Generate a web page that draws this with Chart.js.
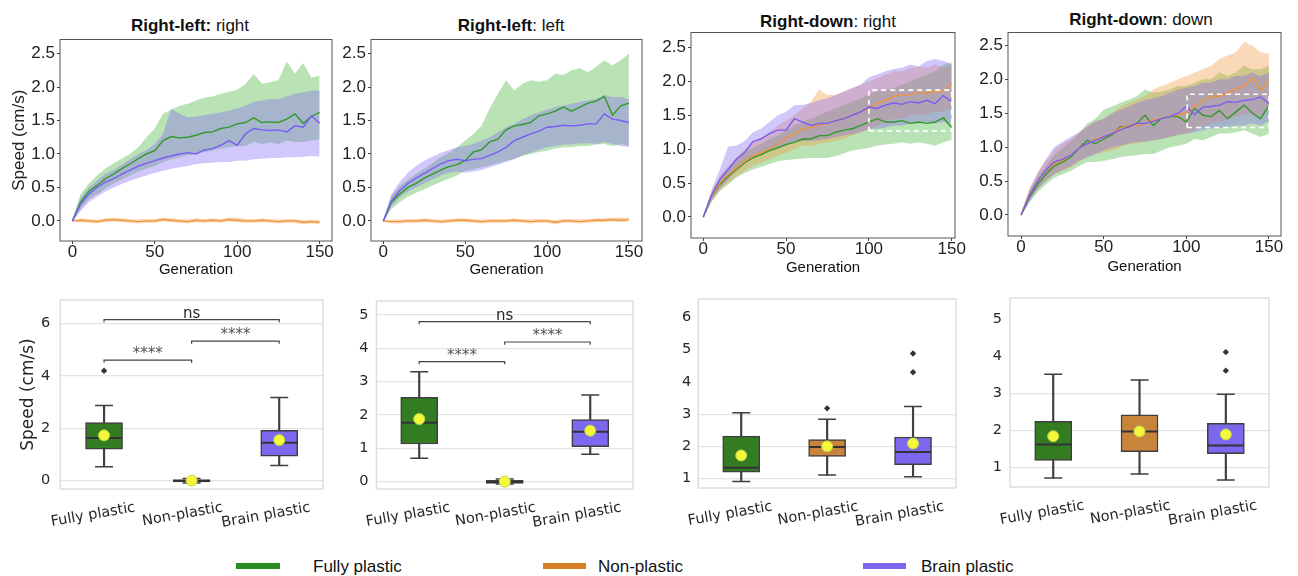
<!DOCTYPE html>
<html>
<head>
<meta charset="utf-8">
<script src="https://cdn.jsdelivr.net/npm/chart.js@4.4.1/dist/chart.umd.min.js"></script>
<style>
  body { margin: 0; background: #fff; width: 1298px; height: 576px; position: relative; overflow: hidden;
         font-family: "Liberation Sans", Arial, sans-serif; }
  canvas { position: absolute; }
  .ttl { position: absolute; font-size: 17px; color: #111; white-space: nowrap; transform: translate(-50%, -50%); }
  .sw { position: absolute; top: 563px; height: 6px; }
  .lt { position: absolute; top: 557px; font-size: 17px; line-height: 20px; color: #111; }
</style>
</head>
<body>
<div class="ttl" style="left:190px;top:26px"><b>Right-left:</b> right</div>
<div class="ttl" style="left:511px;top:26px"><b>Right-left</b>: left</div>
<div class="ttl" style="left:828px;top:22px"><b>Right-down</b>: right</div>
<div class="ttl" style="left:1141px;top:20px"><b>Right-down</b>: down</div>

<div class="sw" style="left:236px;width:44px;background:#2a8c22"></div>
<div class="lt" style="left:313px">Fully plastic</div>
<div class="sw" style="left:543px;width:43px;background:#d97f2a"></div>
<div class="lt" style="left:598px">Non-plastic</div>
<div class="sw" style="left:863px;width:43px;background:#7b68ee"></div>
<div class="lt" style="left:921px">Brain plastic</div>

<script>
// ---- top row: mean speed per generation, with spread band ----
const gens = [0,5,10,15,20,25,30,35,40,45,50,55,60,65,70,75,80,85,90,95,100,105,110,115,120,125,130,135,140,145,150];
const genTicks = [0, 50, 100, 150];
const speedTicks = [0, 0.5, 1, 1.5, 2, 2.5];

// Right-left: right
const rlRightFully   = [0,0.28,0.44,0.53,0.63,0.7,0.78,0.85,0.93,1.0,1.05,1.2,1.26,1.24,1.25,1.28,1.32,1.33,1.38,1.4,1.45,1.47,1.54,1.47,1.48,1.47,1.52,1.6,1.46,1.56,1.62];
const rlRightFullyHi = [0.02,0.4,0.56,0.68,0.78,0.86,0.93,1.0,1.1,1.25,1.38,1.6,1.66,1.72,1.75,1.8,1.84,1.86,1.9,1.93,1.96,2.04,2.2,2.05,2.07,2.1,2.38,2.2,2.36,2.14,2.17];
const rlRightFullyLo = [-0.02,0.18,0.32,0.4,0.48,0.56,0.62,0.68,0.74,0.78,0.82,0.88,0.92,0.95,0.98,1.0,1.03,1.05,1.08,1.1,1.12,1.12,1.18,1.15,1.17,1.15,1.2,1.18,1.18,1.2,1.22];
const rlRightNon     = [0,0.01,0,-0.01,0.01,0.02,0.01,0,-0.01,0,0,0.02,0.01,0,-0.01,0.01,0,0.01,0,0.02,0.01,0,0,0.01,0,-0.01,0,0,-0.02,-0.01,-0.02];
const rlRightNonHi   = [0.01,0.04,0.03,0.02,0.04,0.05,0.04,0.03,0.02,0.03,0.03,0.05,0.04,0.03,0.02,0.04,0.03,0.04,0.03,0.05,0.05,0.03,0.03,0.04,0.03,0.02,0.03,0.03,0.01,0.02,0.01];
const rlRightNonLo   = [-0.01,-0.02,-0.03,-0.04,-0.02,-0.01,-0.02,-0.03,-0.04,-0.03,-0.03,-0.01,-0.02,-0.03,-0.04,-0.02,-0.03,-0.02,-0.03,-0.01,-0.02,-0.03,-0.03,-0.02,-0.03,-0.04,-0.03,-0.03,-0.05,-0.04,-0.05];
const rlRightBrain   = [0,0.25,0.4,0.5,0.58,0.63,0.7,0.76,0.82,0.86,0.9,0.94,0.97,1.0,1.02,1.0,1.06,1.08,1.13,1.2,1.13,1.3,1.38,1.36,1.35,1.36,1.33,1.42,1.4,1.57,1.46];
const rlRightBrainHi = [0.02,0.35,0.5,0.6,0.7,0.76,0.84,0.92,1.0,1.06,1.15,1.3,1.68,1.6,1.55,1.56,1.58,1.6,1.62,1.65,1.68,1.72,1.78,1.8,1.82,1.82,1.86,1.9,1.92,1.95,1.95];
const rlRightBrainLo = [-0.02,0.15,0.28,0.36,0.44,0.5,0.55,0.6,0.64,0.68,0.72,0.75,0.78,0.8,0.82,0.85,0.86,0.87,0.88,0.88,0.9,0.9,0.92,0.93,0.94,0.94,0.95,0.95,0.96,0.97,0.96];

// Right-left: left
const rlLeftFully   = [0,0.28,0.4,0.5,0.56,0.64,0.7,0.76,0.81,0.84,0.9,1.03,1.06,1.18,1.22,1.36,1.42,1.44,1.47,1.57,1.6,1.64,1.7,1.64,1.7,1.76,1.79,1.86,1.58,1.72,1.76];
const rlLeftFullyHi = [0.02,0.38,0.52,0.62,0.7,0.78,0.86,0.95,1.02,1.1,1.2,1.3,1.42,1.68,1.9,2.1,1.95,2.05,2.1,2.08,2.1,2.2,2.18,2.25,2.28,2.22,2.3,2.4,2.32,2.4,2.5];
const rlLeftFullyLo = [-0.02,0.18,0.28,0.36,0.42,0.47,0.53,0.58,0.63,0.68,0.75,0.77,0.8,0.83,0.86,0.9,0.93,0.97,1.0,1.03,1.05,1.08,1.1,1.1,1.12,1.12,1.14,1.15,1.12,1.15,1.12];
const rlLeftNon     = [0,-0.01,-0.01,0,0,0.01,0,-0.01,0,0.01,0.01,0,-0.01,0,0,0,0.01,0,-0.01,0,0,-0.02,0,0,-0.01,0,0.01,0.01,0.02,0.01,0.02];
const rlLeftNonHi   = [0.01,0.02,0.02,0.03,0.03,0.04,0.03,0.02,0.03,0.04,0.04,0.03,0.02,0.03,0.03,0.03,0.04,0.03,0.02,0.03,0.03,0.01,0.03,0.03,0.02,0.03,0.04,0.04,0.05,0.05,0.05];
const rlLeftNonLo   = [-0.01,-0.04,-0.04,-0.03,-0.03,-0.02,-0.03,-0.04,-0.03,-0.02,-0.02,-0.03,-0.04,-0.03,-0.03,-0.03,-0.02,-0.03,-0.04,-0.03,-0.03,-0.05,-0.03,-0.03,-0.04,-0.03,-0.02,-0.02,-0.01,-0.02,-0.01];
const rlLeftBrain   = [0,0.3,0.45,0.56,0.64,0.71,0.78,0.85,0.9,0.92,0.9,0.92,0.93,0.98,1.03,1.1,1.2,1.25,1.3,1.34,1.4,1.41,1.43,1.42,1.43,1.45,1.45,1.6,1.52,1.5,1.47];
const rlLeftBrainHi = [0.02,0.4,0.58,0.72,0.82,0.9,0.96,1.02,1.06,1.1,1.12,1.15,1.2,1.25,1.32,1.4,1.45,1.52,1.58,1.62,1.66,1.7,1.72,1.75,1.78,1.8,1.82,1.88,1.85,1.85,1.82];
const rlLeftBrainLo = [-0.02,0.22,0.35,0.44,0.5,0.56,0.62,0.68,0.72,0.74,0.72,0.74,0.76,0.8,0.84,0.88,0.92,0.98,1.02,1.06,1.1,1.12,1.14,1.14,1.16,1.16,1.15,1.18,1.15,1.12,1.1];

// Right-down: right
const rdRightFully   = [0,0.3,0.48,0.6,0.7,0.8,0.87,0.92,0.98,1.02,1.07,1.1,1.15,1.15,1.2,1.2,1.25,1.28,1.3,1.35,1.4,1.45,1.4,1.4,1.42,1.38,1.4,1.38,1.4,1.46,1.32];
const rdRightFullyHi = [0.02,0.36,0.58,0.72,0.84,0.95,1.02,1.08,1.15,1.2,1.28,1.35,1.4,1.45,1.5,1.55,1.6,1.65,1.7,1.75,1.8,1.85,1.88,1.9,1.95,2.0,2.05,2.1,2.15,2.25,2.28];
const rdRightFullyLo = [-0.02,0.22,0.38,0.48,0.58,0.65,0.7,0.74,0.78,0.82,0.84,0.85,0.86,0.87,0.87,0.87,0.9,0.94,0.98,1.0,1.02,1.05,1.07,1.08,1.1,1.08,1.1,1.08,1.05,1.1,1.14];
const rdRightNon     = [0,0.3,0.5,0.62,0.72,0.82,0.9,0.95,1.0,1.08,1.17,1.22,1.3,1.32,1.36,1.38,1.42,1.45,1.5,1.55,1.6,1.68,1.72,1.78,1.8,1.8,1.84,1.82,1.86,1.85,1.96];
const rdRightNonHi   = [0.02,0.36,0.6,0.75,0.88,1.0,1.1,1.18,1.25,1.35,1.42,1.5,1.6,1.7,1.88,1.8,1.8,1.85,1.9,1.95,2.0,2.05,2.1,2.15,2.15,2.2,2.22,2.2,2.25,2.2,2.25];
const rdRightNonLo   = [-0.02,0.24,0.4,0.5,0.6,0.68,0.75,0.8,0.85,0.9,0.95,1.0,1.05,1.05,1.08,1.1,1.12,1.15,1.2,1.25,1.3,1.35,1.4,1.45,1.45,1.5,1.5,1.52,1.55,1.55,1.6];
const rdRightBrain   = [0,0.32,0.55,0.7,0.85,0.95,1.11,1.15,1.23,1.28,1.28,1.45,1.4,1.35,1.38,1.38,1.42,1.45,1.5,1.55,1.62,1.6,1.65,1.68,1.66,1.7,1.68,1.72,1.67,1.79,1.7];
const rdRightBrainHi = [0.02,0.4,0.7,1.04,1.05,1.12,1.25,1.3,1.4,1.5,1.55,1.65,1.65,1.68,1.72,1.75,1.8,1.85,1.9,1.95,2.06,2.1,2.15,2.18,2.2,2.25,2.22,2.3,2.33,2.3,2.25];
const rdRightBrainLo = [-0.02,0.24,0.42,0.55,0.68,0.78,0.88,0.92,1.0,1.02,1.05,1.1,1.12,1.12,1.14,1.15,1.18,1.2,1.22,1.25,1.3,1.3,1.32,1.35,1.35,1.38,1.38,1.4,1.38,1.4,1.38];
const rdRightZoom    = [100, 150, 1.27, 1.87];   // gen from, gen to, speed from, speed to

// Right-down: down
const rdDownFully   = [0,0.26,0.45,0.6,0.72,0.78,0.85,0.98,1.1,1.05,1.12,1.18,1.3,1.3,1.35,1.47,1.32,1.42,1.45,1.45,1.37,1.57,1.47,1.45,1.54,1.42,1.52,1.62,1.5,1.42,1.62];
const rdDownFullyHi = [0.02,0.34,0.56,0.72,0.88,0.98,1.08,1.2,1.35,1.42,1.55,1.6,1.65,1.7,1.75,1.85,1.8,1.82,1.85,1.9,1.9,1.95,2.0,2.0,2.1,2.05,2.1,2.2,2.15,2.15,2.2];
const rdDownFullyLo = [-0.02,0.18,0.34,0.45,0.55,0.6,0.65,0.72,0.78,0.78,0.8,0.82,0.85,0.87,0.88,0.9,0.9,0.95,1.0,1.02,1.05,1.12,1.1,1.15,1.2,1.2,1.22,1.25,1.2,1.15,1.2];
const rdDownNon     = [0,0.3,0.5,0.64,0.75,0.8,0.88,0.98,1.05,1.12,1.15,1.2,1.28,1.32,1.32,1.35,1.4,1.42,1.45,1.48,1.5,1.6,1.68,1.75,1.75,1.8,1.86,1.9,2.02,1.84,1.98];
const rdDownNonHi   = [0.02,0.38,0.62,0.8,0.95,1.05,1.12,1.2,1.3,1.38,1.42,1.5,1.6,1.65,1.7,1.75,1.85,1.9,1.95,2.0,2.05,2.1,2.15,2.2,2.3,2.35,2.4,2.55,2.5,2.4,2.38];
const rdDownNonLo   = [-0.02,0.22,0.38,0.5,0.6,0.65,0.7,0.78,0.85,0.9,0.92,0.95,1.0,1.05,1.05,1.08,1.1,1.12,1.15,1.18,1.2,1.25,1.3,1.35,1.38,1.4,1.45,1.48,1.5,1.45,1.55];
const rdDownBrain   = [0,0.28,0.5,0.66,0.78,0.82,0.88,0.98,1.05,1.1,1.15,1.2,1.25,1.3,1.35,1.35,1.38,1.42,1.45,1.5,1.6,1.48,1.59,1.6,1.62,1.67,1.66,1.69,1.7,1.74,1.64];
const rdDownBrainHi = [0.02,0.38,0.62,0.82,1.0,1.08,1.15,1.22,1.3,1.38,1.42,1.5,1.55,1.6,1.65,1.7,1.72,1.75,1.8,1.85,1.88,1.9,1.95,1.95,2.0,2.0,2.05,2.05,2.1,2.05,2.1];
const rdDownBrainLo = [-0.02,0.2,0.38,0.5,0.6,0.66,0.72,0.8,0.85,0.9,0.95,1.0,1.02,1.05,1.08,1.08,1.1,1.12,1.15,1.18,1.2,1.22,1.25,1.28,1.28,1.3,1.32,1.32,1.35,1.32,1.38];
const rdDownZoom    = [100.5, 150, 1.29, 1.78];

// ---- bottom row: speed distributions (low whisker, q1, median, q3, high whisker) ----
const boxCats = ['Fully plastic', 'Non-plastic', 'Brain plastic'];

const rlRightBox  = [[0.53, 1.2, 1.63, 2.22, 2.87], [-0.09, -0.05, -0.01, 0.04, 0.08], [0.58, 0.93, 1.45, 1.92, 3.18]];
const rlRightMean = [1.73, 0.0, 1.55];
const rlRightOut  = [[4.2], [], []];
const rlRightSig  = [{from: 0, to: 2, y: 6.15, label: 'ns'}, {from: 0, to: 1, y: 4.6, label: '****'}, {from: 1, to: 2, y: 5.33, label: '****'}];

const rlLeftBox  = [[0.7, 1.13, 1.77, 2.53, 3.3], [-0.07, -0.05, -0.01, 0.04, 0.08], [0.82, 1.05, 1.5, 1.86, 2.6]];
const rlLeftMean = [1.88, 0.0, 1.53];
const rlLeftOut  = [[], [], []];
const rlLeftSig  = [{from: 0, to: 2, y: 4.8, label: 'ns'}, {from: 0, to: 1, y: 3.6, label: '****'}, {from: 1, to: 2, y: 4.19, label: '****'}];

const rdRightBox  = [[0.91, 1.2, 1.34, 2.32, 3.04], [1.11, 1.69, 1.98, 2.21, 2.84], [1.06, 1.43, 1.83, 2.29, 3.24]];
const rdRightMean = [1.72, 2.0, 2.09];
const rdRightOut  = [[], [3.18], [4.3, 4.88]];

const rdDownBox  = [[0.72, 1.2, 1.63, 2.25, 3.52], [0.83, 1.43, 1.98, 2.43, 3.37], [0.67, 1.38, 1.6, 2.2, 2.98]];
const rdDownMean = [1.85, 1.98, 1.9];
const rdDownOut  = [[], [], [3.62, 4.12]];

const GREEN = '#2f9a27', ORANGE = '#f0923a', PURPLE = '#7a5cf5';
const GREEN_BAND = 'rgba(60,175,50,0.36)', ORANGE_BAND = 'rgba(240,150,60,0.36)', PURPLE_BAND = 'rgba(130,100,245,0.36)';
const BOX_COLORS = ['#347c22', '#c9843c', '#7b68ee'];
const SANS = '"Liberation Sans", Arial, sans-serif';
const DEJAVU = '"DejaVu Sans", sans-serif';

const pts = (xs, ys) => xs.map((x, i) => ({x: x, y: ys[i]}));

function makeCanvas(left, top, w, h) {
    const c = document.createElement('canvas');
    c.width = w; c.height = h;
    c.style.left = left + 'px'; c.style.top = top + 'px';
    c.style.width = w + 'px'; c.style.height = h + 'px';
    document.body.appendChild(c);
    return c;
}

function framePlugin(color, width, when) {
    const draw = (chart) => {
        const {ctx, chartArea: a} = chart;
        ctx.save();
        ctx.strokeStyle = color;
        ctx.lineWidth = width;
        ctx.strokeRect(a.left, a.top, a.right - a.left, a.bottom - a.top);
        ctx.restore();
    };
    return when === 'before' ? {id: 'frame', beforeDatasetsDraw: draw} : {id: 'frame', afterDraw: draw};
}

// line panel with shaded bands
function lineChart(p) {
    const padTop = 10, padRight = 18;
    const [L, T, R, B] = p.area;
    const cv = makeCanvas(L - p.yW, T - padTop, p.yW + (R - L) + padRight, padTop + (B - T) + p.xH);

    // bands first (lower, upper filled to lower), mean lines on top
    const datasets = [];
    let order = 40;
    p.series.forEach(s => {
        datasets.push({data: pts(gens, s.lo), borderWidth: 0, pointRadius: 0, fill: false, order: order--});
        datasets.push({data: pts(gens, s.hi), borderWidth: 0, pointRadius: 0, backgroundColor: s.band, fill: '-1', order: order--});
    });
    p.series.forEach(s => {
        datasets.push({data: pts(gens, s.mean), borderColor: s.line, borderWidth: 1.4, pointRadius: 0, fill: false, order: order--});
    });
    if (p.zoom) {
        const [x0, x1, y0, y1] = p.zoom;
        datasets.push({
            data: pts([x0, x1, x1, x0, x0], [y0, y0, y1, y1, y0]),
            borderColor: '#ffffff', borderWidth: 1.6, borderDash: [5, 4], pointRadius: 0, fill: false, order: 0
        });
    }

    new Chart(cv, {
        type: 'line',
        data: {datasets: datasets},
        options: {
            responsive: false, animation: false, devicePixelRatio: 1, events: [],
            layout: {padding: {top: padTop, right: padRight, left: 0, bottom: 0}},
            plugins: {legend: {display: false}, tooltip: {enabled: false}},
            scales: {
                x: {
                    type: 'linear', min: p.xMin, max: p.xMax,
                    afterBuildTicks: a => { a.ticks = genTicks.map(v => ({value: v})); },
                    afterFit: s => { s.height = p.xH; },
                    grid: {drawOnChartArea: false, drawTicks: true, tickLength: 3, color: '#444'},
                    border: {display: false},
                    ticks: {font: {family: SANS, size: 17, lineHeight: 1}, color: '#222', padding: 0, maxRotation: 0},
                    title: {display: true, text: 'Generation', font: {family: SANS, size: 15}, color: '#111', padding: 0}
                },
                y: {
                    min: p.yMin, max: p.yMax,
                    afterBuildTicks: a => { a.ticks = speedTicks.map(v => ({value: v})); },
                    afterFit: s => { s.width = p.yW; },
                    grid: {drawOnChartArea: false, drawTicks: true, tickLength: 3, color: '#444'},
                    border: {display: false},
                    ticks: {font: {family: SANS, size: 17, lineHeight: 1}, color: '#222', padding: 2,
                            callback: v => v.toFixed(1)},
                    title: {display: !!p.yTitle, text: 'Speed (cm/s)', font: {family: SANS, size: 17},
                            color: '#222', padding: {top: 9, bottom: 0}}
                }
            }
        },
        plugins: [framePlugin('#555', 1, 'after')]
    });
}

// box plot panel
function boxChart(p) {
    const padTop = 5, padRight = 10;
    const [L, T, R, B] = p.area;
    const cv = makeCanvas(L - p.yW, T - padTop, p.yW + (R - L) + padRight, padTop + (B - T) + p.xH);

    const caps = [], medians = [], means = [], outliers = [];
    p.box.forEach((s, i) => {
        caps.push({x: boxCats[i], y: s[0]}, {x: boxCats[i], y: s[4]});
        medians.push({x: boxCats[i], y: s[2]});
        means.push({x: boxCats[i], y: p.mean[i]});
        p.out[i].forEach(v => outliers.push({x: boxCats[i], y: v}));
    });

    const datasets = [
        {type: 'bar', data: p.box.map(s => [s[0], s[4]]), backgroundColor: '#3f3f3f', barThickness: 1.5, grouped: false, order: 6},
        {type: 'bar', data: p.box.map(s => [s[1], s[3]]), backgroundColor: BOX_COLORS, borderColor: '#3f3f3f',
         borderWidth: 1.5, borderSkipped: false, barThickness: 37, grouped: false, order: 5},
        {type: 'line', data: caps, showLine: false, pointStyle: 'line', pointRadius: 9, pointBorderWidth: 1.5, pointBorderColor: '#3f3f3f', order: 4},
        {type: 'line', data: medians, showLine: false, pointStyle: 'line', pointRadius: 18, pointBorderWidth: 2, pointBorderColor: '#333', order: 3},
        {type: 'line', data: outliers, showLine: false, pointStyle: 'rectRot', pointRadius: 3.2, pointBackgroundColor: '#333',
         pointBorderWidth: 0, order: 2},
        {type: 'line', data: means, showLine: false, pointStyle: 'circle', pointRadius: 5.5, pointBackgroundColor: '#f5f73a',
         pointBorderColor: '#bcd94a', pointBorderWidth: 1, order: 1}
    ];

    const sig = p.sig || [];
    sig.forEach(s => {
        const d = p.drop;
        datasets.push({
            type: 'line', order: 0, borderColor: '#444', borderWidth: 1.2, pointRadius: 0, fill: false,
            data: [{x: boxCats[s.from], y: s.y - d}, {x: boxCats[s.from], y: s.y}, {x: boxCats[s.to], y: s.y}, {x: boxCats[s.to], y: s.y - d}]
        });
    });

    const sigLabels = {
        id: 'sigLabels',
        afterDatasetsDraw(chart) {
            const {ctx} = chart, xs = chart.scales.x, ys = chart.scales.y;
            ctx.save();
            ctx.font = '15px ' + DEJAVU;
            ctx.textAlign = 'center';
            ctx.textBaseline = 'alphabetic';
            sig.forEach(s => {
                const px = (xs.getPixelForValue(s.from) + xs.getPixelForValue(s.to)) / 2;
                ctx.fillStyle = s.label === 'ns' ? '#262626' : '#555';
                ctx.fillText(s.label, px, ys.getPixelForValue(s.y) - 2);
            });
            ctx.restore();
        }
    };

    new Chart(cv, {
        type: 'bar',
        data: {labels: boxCats, datasets: datasets},
        options: {
            responsive: false, animation: false, devicePixelRatio: 1, events: [],
            layout: {padding: {top: padTop, right: padRight, left: 0, bottom: 0}},
            plugins: {legend: {display: false}, tooltip: {enabled: false}},
            scales: {
                x: {
                    type: 'category', labels: boxCats,
                    afterFit: s => { s.height = p.xH; },
                    grid: {display: false, drawTicks: false},
                    border: {display: false},
                    ticks: {font: {family: DEJAVU, size: 14.5}, color: '#262626', minRotation: 10, maxRotation: 10,
                            autoSkip: false, labelOffset: 31, padding: 10}
                },
                y: {
                    min: p.yMin, max: p.yMax,
                    afterBuildTicks: a => { a.ticks = p.ticks.map(v => ({value: v})); },
                    afterFit: s => { s.width = p.yW; },
                    grid: {drawTicks: false, lineWidth: 1.2,
                           color: c => (c.tick && c.tick.value > p.gridMax) ? 'rgba(0,0,0,0)' : '#e3e3e3'},
                    border: {display: false},
                    ticks: {font: {family: DEJAVU, size: 14.5}, color: '#262626', padding: p.tickPad},
                    title: {display: !!p.yTitle, text: 'Speed (cm/s)', font: {family: DEJAVU, size: 17},
                            color: '#262626', padding: {top: 18, bottom: 0}}
                }
            }
        },
        plugins: [framePlugin('#dedede', 1.5, 'before'), sigLabels]
    });
}

const series = (f, fh, fl, n, nh, nl, b, bh, bl) => [
    {mean: f, hi: fh, lo: fl, line: GREEN, band: GREEN_BAND},
    {mean: n, hi: nh, lo: nl, line: ORANGE, band: ORANGE_BAND},
    {mean: b, hi: bh, lo: bl, line: PURPLE, band: PURPLE_BAND}
];

lineChart({area: [60, 39, 332, 241], yW: 60, xH: 38, xMin: -7.5, xMax: 157.5, yMin: -0.3, yMax: 2.71, yTitle: true,
    series: series(rlRightFully, rlRightFullyHi, rlRightFullyLo, rlRightNon, rlRightNonHi, rlRightNonLo, rlRightBrain, rlRightBrainHi, rlRightBrainLo)});
lineChart({area: [371, 39, 642, 241], yW: 45, xH: 38, xMin: -7.5, xMax: 158, yMin: -0.3, yMax: 2.71,
    series: series(rlLeftFully, rlLeftFullyHi, rlLeftFullyLo, rlLeftNon, rlLeftNonHi, rlLeftNonLo, rlLeftBrain, rlLeftBrainHi, rlLeftBrainLo)});
lineChart({area: [691, 32, 955, 238], yW: 45, xH: 39, xMin: -7.4, xMax: 152, yMin: -0.31, yMax: 2.72, zoom: rdRightZoom,
    series: series(rdRightFully, rdRightFullyHi, rdRightFullyLo, rdRightNon, rdRightNonHi, rdRightNonLo, rdRightBrain, rdRightBrainHi, rdRightBrainLo)});
lineChart({area: [1008, 32, 1281, 236], yW: 45, xH: 40, xMin: -7.9, xMax: 157.3, yMin: -0.31, yMax: 2.69, zoom: rdDownZoom,
    series: series(rdDownFully, rdDownFullyHi, rdDownFullyLo, rdDownNon, rdDownNonHi, rdDownNonLo, rdDownBrain, rdDownBrainHi, rdDownBrainLo)});

boxChart({area: [60, 285, 333, 489], yW: 60, xH: 45, yMin: -0.32, yMax: 6.9, ticks: [0, 2, 4, 6], gridMax: 99, tickPad: 10,
    yTitle: true, box: rlRightBox, mean: rlRightMean, out: rlRightOut, sig: rlRightSig, drop: 0.1});
boxChart({area: [371, 286, 643, 489], yW: 55, xH: 45, yMin: -0.22, yMax: 5.42, ticks: [0, 1, 2, 3, 4, 5], gridMax: 99, tickPad: 8,
    box: rlLeftBox, mean: rlLeftMean, out: rlLeftOut, sig: rlLeftSig, drop: 0.08});
boxChart({area: [693, 284, 966, 488], yW: 55, xH: 45, yMin: 0.71, yMax: 6.57, ticks: [1, 2, 3, 4, 5, 6], gridMax: 3, tickPad: 7,
    box: rdRightBox, mean: rdRightMean, out: rdRightOut});
boxChart({area: [1005, 283, 1279, 487], yW: 55, xH: 45, yMin: 0.48, yMax: 5.58, ticks: [1, 2, 3, 4, 5], gridMax: 3, tickPad: 8,
    box: rdDownBox, mean: rdDownMean, out: rdDownOut});
</script>
</body>
</html>
